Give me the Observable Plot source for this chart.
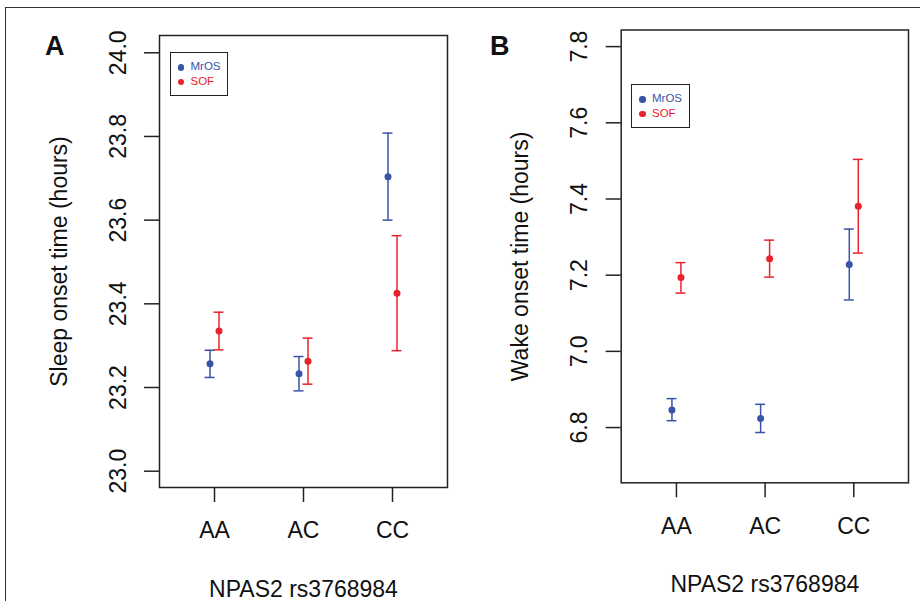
<!DOCTYPE html>
<html>
<head>
<meta charset="utf-8">
<script src="https://cdn.jsdelivr.net/npm/d3@7"></script>
<script src="https://cdn.jsdelivr.net/npm/@observablehq/plot@0.6"></script>
<style>
  html, body { margin: 0; padding: 0; background: #fff; }
  #fig { position: relative; width: 920px; height: 601px; overflow: hidden; background: #fff;
         font-family: "Liberation Sans", Arial, Helvetica, sans-serif; }
  #outer { position: absolute; left: 5px; top: 7px; width: 2000px; height: 2000px;
           border-left: 1.5px solid #333; border-top: 1.5px solid #333; }
  .panel { position: absolute; top: 0; }
  .letter { position: absolute; font-weight: bold; font-size: 27px; color: #111; line-height: 1; }
  .legend { position: absolute; border: 1.5px solid #222; box-sizing: border-box; background: #fff; }
  .legend .item { position: absolute; font-size: 11.5px; line-height: 1; white-space: nowrap; }
  .legend .dot { position: absolute; width: 6.5px; height: 6.5px; border-radius: 50%; }
</style>
</head>
<body>
<div id="fig">
  <div id="outer"></div>
</div>
<script>
// ---------- data ----------
const genotypes = ["AA", "AC", "CC"];
const seriesNames = ["MrOS", "SOF"];
const seriesColors = ["#3953a8", "#e8232b"];

// Panel A: sleep onset time (hours)
const sleepMrOSMean = [23.257, 23.233, 23.704];
const sleepMrOSLow  = [23.224, 23.192, 23.600];
const sleepMrOSHigh = [23.289, 23.274, 23.808];
const sleepSOFMean  = [23.335, 23.263, 23.425];
const sleepSOFLow   = [23.290, 23.208, 23.288];
const sleepSOFHigh  = [23.380, 23.318, 23.563];
const sleepTicks = [23.0, 23.2, 23.4, 23.6, 23.8, 24.0];

// Panel B: wake onset time (hours)
const wakeMrOSMean = [6.846, 6.824, 7.228];
const wakeMrOSLow  = [6.818, 6.787, 7.135];
const wakeMrOSHigh = [6.876, 6.861, 7.321];
const wakeSOFMean  = [7.194, 7.243, 7.381];
const wakeSOFLow   = [7.153, 7.195, 7.258];
const wakeSOFHigh  = [7.233, 7.292, 7.504];
const wakeTicks = [6.8, 7.0, 7.2, 7.4, 7.6, 7.8];

const xTitle = "NPAS2 rs3768984";

// ---------- helpers ----------
const CAP = 0.056; // half cap width in category units
function rows(mean, low, high) {
  return genotypes.map((g, i) => ({g, pos: i + 1, mean: mean[i], low: low[i], high: high[i]}));
}

function seriesMarks(data, color, dx) {
  const common = {stroke: color, strokeWidth: 1.5, dx};
  return [
    Plot.ruleX(data, {x: "pos", y1: "low", y2: "high", ...common}),
    Plot.ruleY(data, {y: "low", x1: d => d.pos - CAP, x2: d => d.pos + CAP, ...common}),
    Plot.ruleY(data, {y: "high", x1: d => d.pos - CAP, x2: d => d.pos + CAP, ...common}),
    Plot.dot(data, {x: "pos", y: "mean", r: 3.5, fill: color, stroke: "none", dx})
  ];
}

function panel({left, margins, xDomain, yDomain, yTicks, yTitle, mros, sof, xTickPad, xTitleDy}) {
  const chart = Plot.plot({
    width: 460,
    height: 601,
    marginLeft: margins[0],
    marginRight: margins[1],
    marginTop: margins[2],
    marginBottom: margins[3],
    style: {fontFamily: "Liberation Sans, Arial, Helvetica, sans-serif", fontSize: "23px", color: "#111", background: "transparent", overflow: "visible"},
    x: {domain: xDomain},
    y: {domain: yDomain},
    marks: [
      Plot.axisY({ticks: yTicks, tickFormat: d3.format(".1f"), tickSize: 15, tickPadding: 19, tickRotate: -90,
                  fontSize: 23, label: null, strokeWidth: 1.5, stroke: "#222"}),
      Plot.axisX({ticks: [1, 2, 3], tickFormat: i => genotypes[i - 1], tickSize: 15, tickPadding: xTickPad,
                  fontSize: 23, label: null, strokeWidth: 1.5, stroke: "#222"}),
      Plot.frame({stroke: "#222", strokeWidth: 1.5}),
      ...seriesMarks(mros, seriesColors[0], -4.5),
      ...seriesMarks(sof, seriesColors[1], 4.5),
      Plot.text([yTitle], {frameAnchor: "left", rotate: -90, dx: -93, textAnchor: "middle", lineAnchor: "bottom", fontSize: 23, fill: "#111"}),
      Plot.text([xTitle], {frameAnchor: "bottom", dy: xTitleDy, textAnchor: "middle", lineAnchor: "bottom", fontSize: 23, fill: "#111"})
    ]
  });
  const wrap = document.createElement("div");
  wrap.className = "panel";
  wrap.style.left = left + "px";
  wrap.appendChild(chart);
  document.getElementById("fig").appendChild(wrap);
}

function legend(x, y) {
  const box = document.createElement("div");
  box.className = "legend";
  box.style.left = x + "px";
  box.style.top = y + "px";
  box.style.width = "58.5px";
  box.style.height = "43.5px";
  seriesNames.forEach((name, i) => {
    const cy = 14.5 + i * 14.3;
    const dot = document.createElement("div");
    dot.className = "dot";
    dot.style.background = seriesColors[i];
    dot.style.left = (10.5 - 3.25) + "px";
    dot.style.top = (cy - 3.25) + "px";
    box.appendChild(dot);
    const t = document.createElement("div");
    t.className = "item";
    t.textContent = name;
    t.style.color = seriesColors[i];
    t.style.left = "20px";
    t.style.top = (cy - 6.3) + "px";
    box.appendChild(t);
  });
  document.getElementById("fig").appendChild(box);
}

function letter(txt, x, y) {
  const d = document.createElement("div");
  d.className = "letter";
  d.textContent = txt;
  d.style.left = x + "px";
  d.style.top = y + "px";
  document.getElementById("fig").appendChild(d);
}

// Panel A
panel({
  left: 0,
  margins: [159, 13, 35, 114],
  xDomain: [0.382, 3.618],
  yDomain: [22.961, 24.0413],
  yTicks: sleepTicks,
  yTitle: "Sleep onset time (hours)",
  mros: rows(sleepMrOSMean, sleepMrOSLow, sleepMrOSHigh),
  sof: rows(sleepSOFMean, sleepSOFLow, sleepSOFHigh),
  xTickPad: 19,
  xTitleDy: 109
});

// Panel B
panel({
  left: 460,
  margins: [160.7, 12, 29.5, 118.7],
  xDomain: [0.377, 3.617],
  yDomain: [6.655, 7.8436],
  yTicks: wakeTicks,
  yTitle: "Wake onset time (hours)",
  mros: rows(wakeMrOSMean, wakeMrOSLow, wakeMrOSHigh),
  sof: rows(wakeSOFMean, wakeSOFLow, wakeSOFHigh),
  xTickPad: 20,
  xTitleDy: 108.7
});

legend(169.5, 52);
legend(631, 84);
letter("A", 45, 33);
letter("B", 490, 33);
</script>
</body>
</html>
